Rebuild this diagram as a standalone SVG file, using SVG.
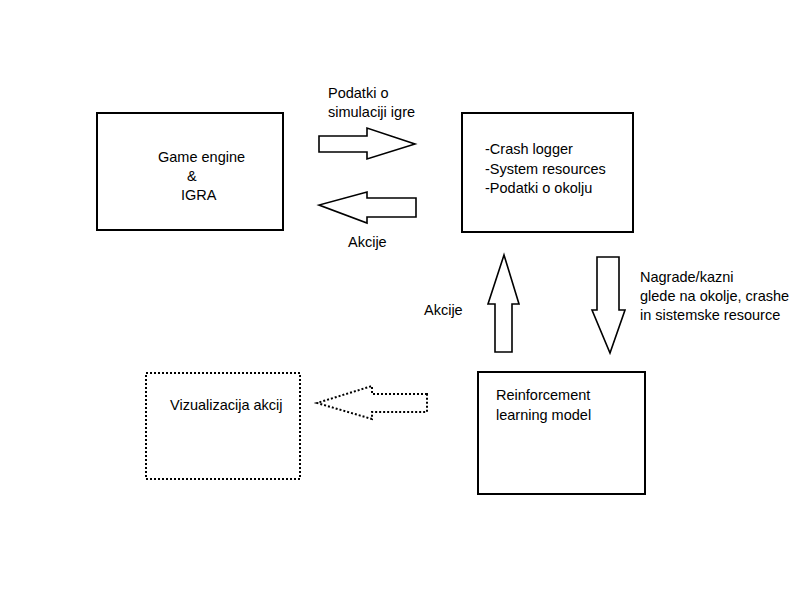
<svg xmlns="http://www.w3.org/2000/svg" width="800" height="600" viewBox="0 0 800 600">
<style>
.box{fill:#fff;stroke:#000;stroke-width:2}
.dot{fill:#fff;stroke:#000;stroke-width:2;stroke-dasharray:2 2}
.arr{fill:#fff;stroke:#000;stroke-width:1.6;stroke-linejoin:miter}
.darr{fill:#fff;stroke:#000;stroke-width:2;stroke-dasharray:2 2}
text{font-family:"Liberation Sans",Arial,sans-serif;font-size:14.5px;fill:#000}
</style>
<rect width="800" height="600" fill="#fff"/>
<g id="game">
<rect class="box" x="97" y="113" width="186" height="117"/>
<text x="158" y="162">Game engine</text>
<text x="187" y="181">&amp;</text>
<text x="181" y="200">IGRA</text>
</g>
<g id="logger">
<rect class="box" x="462" y="113" width="171" height="119"/>
<text x="485" y="154">-Crash logger</text>
<text x="485" y="174">-System resources</text>
<text x="485" y="193">-Podatki o okolju</text>
</g>
<g id="rl">
<rect class="box" x="478" y="372" width="167" height="122"/>
<text x="496" y="400">Reinforcement</text>
<text x="496" y="420">learning model</text>
</g>
<g id="viz">
<rect class="dot" x="146" y="373" width="154" height="106"/>
<text x="170" y="410">Vizualizacija akcij</text>
</g>
<g id="connectors">
<polygon class="arr" points="319,136 367,136 367,128 415,144 367,159 367,152 319,152"/>
<polygon class="arr" points="416,198 367,198 367,192 319,205 367,223 367,217 416,217"/>
<polygon class="arr" points="504,255 519,304 512,304 512,352 495,352 495,304 488,304"/>
<polygon class="arr" points="597,257 619,257 619,310 625,310 610,353 592,310 597,310"/>
<polygon class="darr" points="427,394 372,394 372,386 317,403 372,419 372,412 427,412"/>
<text x="328" y="98">Podatki o</text>
<text x="328" y="117">simulaciji igre</text>
<text x="348" y="247">Akcije</text>
<text x="424" y="315">Akcije</text>
<text x="640" y="282">Nagrade/kazni</text>
<text x="640" y="301">glede na okolje, crashe</text>
<text x="640" y="320">in sistemske resource</text>
</g>
</svg>
